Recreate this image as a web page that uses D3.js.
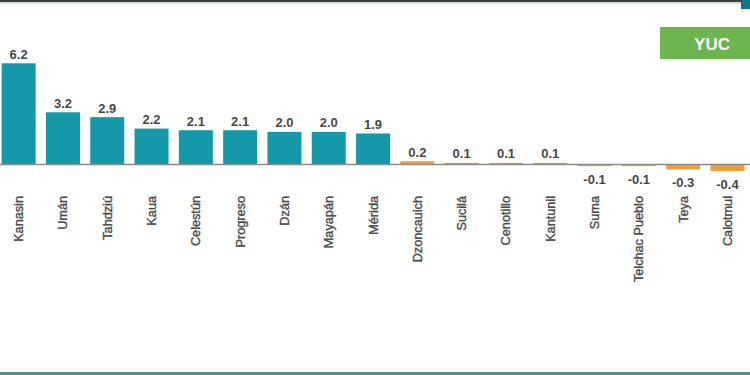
<!DOCTYPE html>
<html><head><meta charset="utf-8">
<script src="https://cdn.jsdelivr.net/npm/d3@7"></script>
<style>body{margin:0;background:#fff}svg{display:block}</style>
</head><body>
<svg id="c" width="750" height="375"></svg>
<script>
const categories = ["Kanasin","Umán","Tahdziú","Kaua","Celestún","Progreso","Dzán","Mayapán","Mérida","Dzoncauich","Sucilá","Cenotillo","Kantunil","Suma","Telchac Pueblo","Teya","Calotmul"];
const values = [6.2,3.2,2.9,2.2,2.1,2.1,2.0,2.0,1.9,0.2,0.1,0.1,0.1,-0.1,-0.1,-0.3,-0.4];
const groups = ["high","high","high","high","high","high","high","high","high","low","low","low","low","low","low","low","low"];
const stateLabel = "YUC";

const svg = d3.select("#c");
const W = 750, H = 375;
const baseY = 164.5;
const x = d3.scaleBand().domain(categories).range([-3.5, 749.6]).paddingInner(0.232).paddingOuter(0.116);
const y = d3.scaleLinear().domain([0, 6.2]).range([baseY, 63.3]);
const color = d3.scaleOrdinal().domain(["high","low"]).range(["#1598a8","#f29d38"]);
const fmt = d3.formatLocale({decimal:".", thousands:",", grouping:[3], currency:["",""], minus:"-"}).format(".1f");

// frame lines
svg.append("rect").attr("x",0).attr("y",0).attr("width",W).attr("height",2).attr("fill","#3b3f40");
svg.append("rect").attr("x",0).attr("y",2).attr("width",W).attr("height",2).attr("fill","#d9dcdc");
svg.append("rect").attr("x",741).attr("y",0).attr("width",9).attr("height",9).attr("fill","#13738a");
svg.append("rect").attr("x",0).attr("y",372).attr("width",W).attr("height",3).attr("fill","#5d8c8a");

// YUC badge
svg.append("rect").attr("x",660).attr("y",27).attr("width",90).attr("height",32).attr("fill","#6cb54f");
svg.append("text").attr("x",712).attr("y",49.5).attr("text-anchor","middle")
  .attr("font-family","'Liberation Sans', Arial, sans-serif").attr("font-weight","bold")
  .attr("font-size",17).attr("fill","#fff").text(stateLabel);

// bars
const data = categories.map((c,i)=>({c, v: values[i], g: groups[i]}));
svg.selectAll("rect.bar").data(data).join("rect").attr("class","bar")
  .attr("x", d=>x(d.c)).attr("width", x.bandwidth())
  .attr("y", d=>Math.min(y(d.v), y(0)))
  .attr("height", d=>Math.max(Math.abs(y(d.v)-y(0)), 1.5))
  .attr("fill", d=>color(d.g));

// baseline
svg.append("line").attr("x1",0).attr("x2",W).attr("y1",baseY).attr("y2",baseY)
  .attr("stroke","#8a8a8a").attr("stroke-width",1.5);

// value labels
svg.selectAll("text.val").data(data).join("text").attr("class","val")
  .attr("x", d=>x(d.c)+x.bandwidth()/2)
  .attr("y", d=> d.v>=0 ? y(d.v)-4.5 : y(d.v)+18)
  .attr("text-anchor","middle")
  .attr("font-family","'Liberation Sans', Arial, sans-serif").attr("font-weight","bold")
  .attr("font-size",13).attr("fill","#474747")
  .text(d=>fmt(d.v));

// category labels (axis)
const axis = d3.axisBottom(x).tickSize(0).tickPadding(0);
const ax = svg.append("g").attr("transform",`translate(0,${baseY})`).call(axis);
ax.select(".domain").remove();
ax.selectAll("text")
  .attr("font-family","'Liberation Sans', Arial, sans-serif")
  .attr("font-size",12.7).attr("fill","#4a4a4a")
  .attr("stroke","#4a4a4a").attr("stroke-width",0.35)
  .attr("text-anchor","end").attr("dy","0.35em")
  .attr("transform","translate(0,31.5) rotate(-90)")
  .attr("x",0).attr("y",0);
</script>
</body></html>
